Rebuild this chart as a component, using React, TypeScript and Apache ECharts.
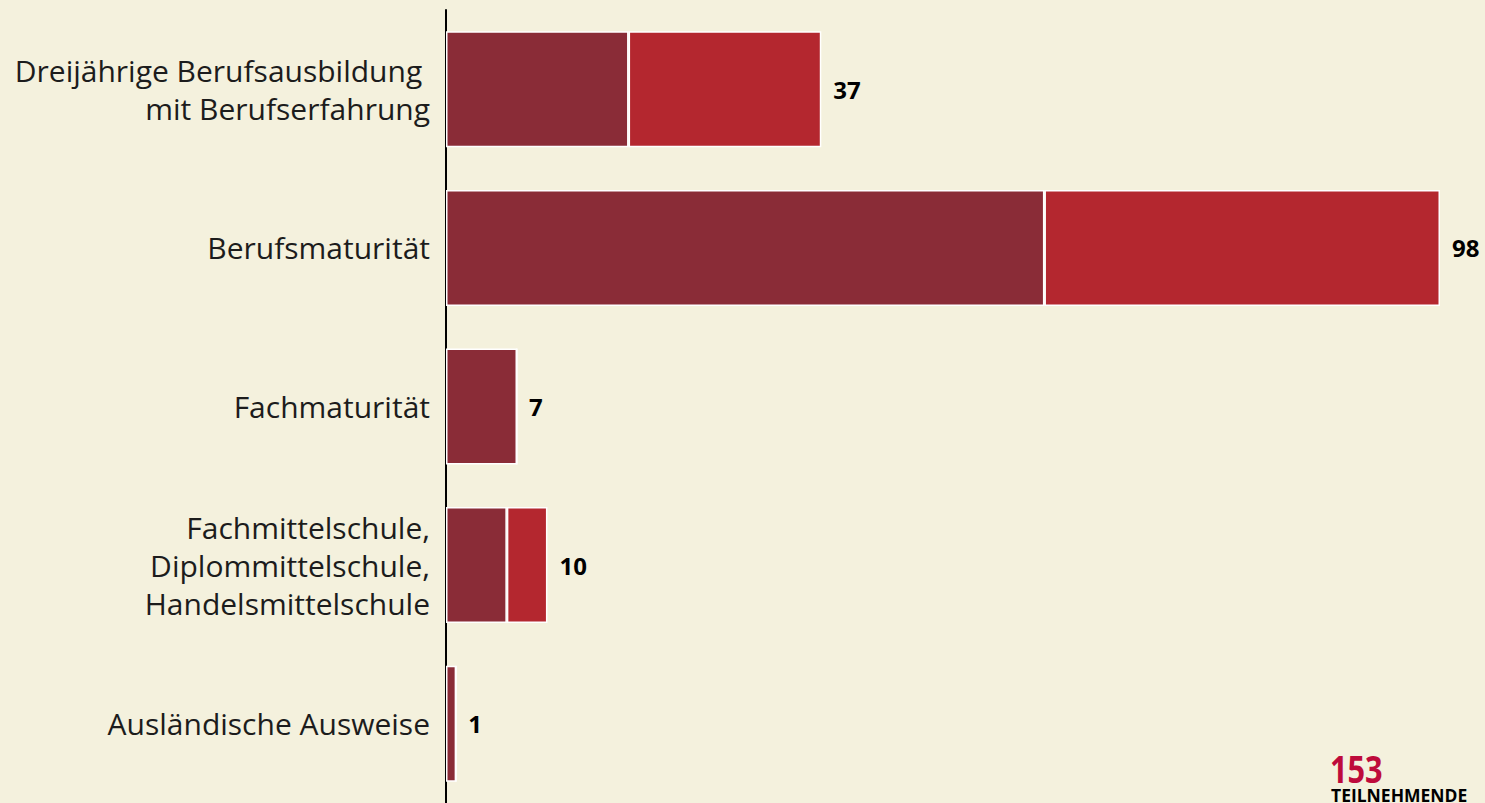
import React, { useEffect, useRef } from "react";
import * as echarts from "echarts";

const categories = [
  "Dreijährige Berufsausbildung \nmit Berufserfahrung",
  "Berufsmaturität",
  "Fachmaturität",
  "Fachmittelschule,\nDiplommittelschule,\nHandelsmittelschule",
  "Ausländische Ausweise",
];
const darkValues = [18, 59, 7, 6, 1];
const redValues = [19, 39, 0, 4, 0];
const totals = [37, 98, 7, 10, 1];
const totalParticipants = "153";
const participantsLabel = "TEILNEHMENDE";

const BG = "#F4F1DD";

export default function App() {
  const ref = useRef<HTMLDivElement>(null);
  useEffect(() => {
    document.body.style.margin = "0";
    const chart = echarts.init(ref.current!, null, { renderer: "svg" });
    chart.setOption({
      animation: false,
      backgroundColor: BG,
      grid: { left: 446, right: 45, top: 10, bottom: -3, containLabel: false },
      xAxis: { type: "value", min: 0, max: 98, show: false },
      yAxis: {
        type: "category",
        data: categories,
        inverse: true,
        axisLine: { show: true, lineStyle: { color: "#000", width: 2 } },
        axisTick: { show: false },
        axisLabel: {
          fontFamily: "Open Sans",
          fontWeight: 400,
          fontSize: 30,
          lineHeight: 38,
          color: "#1c1c1c",
          margin: 16,
          align: "right",
        },
      },
      series: [
        {
          type: "bar",
          stack: "a",
          data: darkValues,
          barWidth: 116,
          itemStyle: { color: "#8A2C37", borderColor: "#ffffff", borderWidth: 1.5 },
        },
        {
          type: "bar",
          stack: "a",
          data: redValues,
          barWidth: 116,
          itemStyle: { color: "#B4272F", borderColor: "#ffffff", borderWidth: 1.5 },
        },
        {
          type: "bar",
          stack: "a",
          data: totals.map(() => 0),
          barWidth: 116,
          itemStyle: { color: "transparent", borderWidth: 0 },
          label: {
            show: true,
            position: "right",
            distance: 12,
            formatter: (p: any) => String(totals[p.dataIndex]),
            fontFamily: "Open Sans",
            fontWeight: "bold",
            fontSize: 24,
            color: "#000",
          },
        },
      ],
      graphic: [
        {
          type: "text",
          x: 1330,
          y: 754,
          scaleX: 0.83,
          style: {
            text: totalParticipants,
            fontFamily: "Open Sans",
            fontWeight: "bold",
            fontSize: 37,
            lineHeight: 30,
            verticalAlign: "top",
            fill: "#BE0B3B",
          },
        },
        {
          type: "text",
          x: 1331,
          y: 786,
          style: {
            text: participantsLabel,
            fontFamily: "Open Sans",
            fontWeight: "bold",
            fontSize: 17.5,
            lineHeight: 17,
            verticalAlign: "top",
            fill: "#000",
          },
        },
      ],
    });
    return () => chart.dispose();
  }, []);
  return <div ref={ref} style={{ width: 1485, height: 803 }} />;
}
